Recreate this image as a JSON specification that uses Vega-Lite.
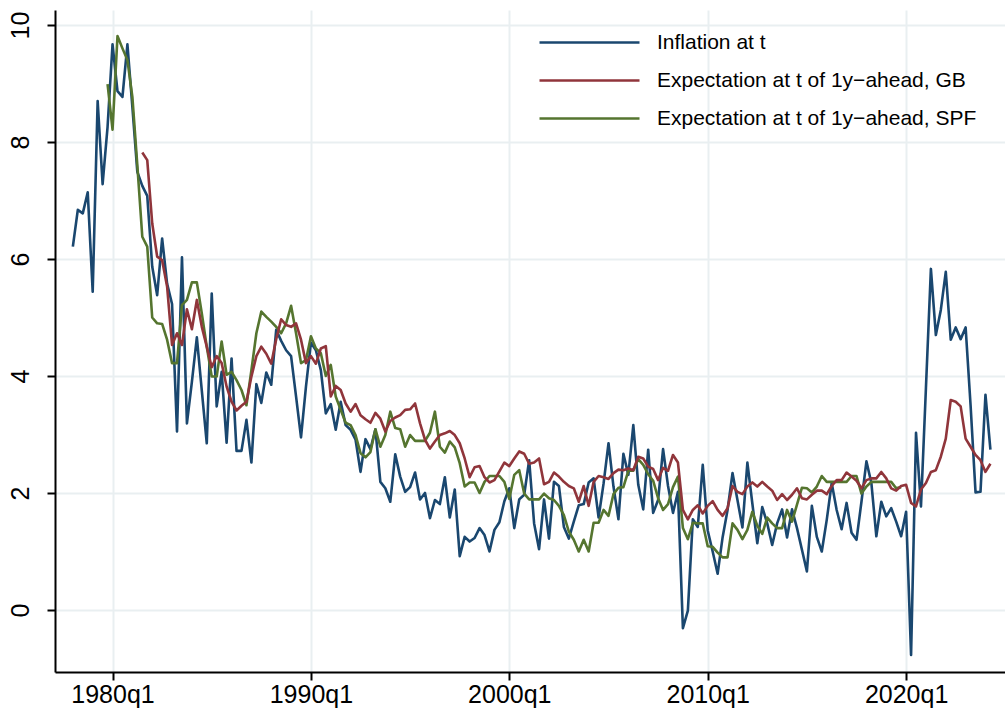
{
  "$schema": "https://vega.github.io/schema/vega-lite/v6.json",
  "width": 950,
  "height": 662,
  "autosize": {"type": "none"},
  "padding": {"left": 55, "top": 10, "right": 0, "bottom": 45},
  "background": "white",
  "config": {
    "view": {"stroke": null},
    "font": "Liberation Sans",
    "axis": {
      "title": null,
      "grid": true,
      "gridColor": "#e9eff1",
      "gridWidth": 2,
      "domainColor": "#000000",
      "domainWidth": 2,
      "tickColor": "#000000",
      "tickWidth": 2,
      "tickSize": 8,
      "labelFont": "Liberation Sans",
      "labelFontSize": 25,
      "labelColor": "#000000",
      "labelOverlap": false,
      "labelFlush": false
    }
  },
  "data": {
    "values": [
      {"q": 1978.00, "inf": 6.21},
      {"q": 1978.25, "inf": 6.84},
      {"q": 1978.50, "inf": 6.78},
      {"q": 1978.75, "inf": 7.14},
      {"q": 1979.00, "inf": 5.44},
      {"q": 1979.25, "inf": 8.70},
      {"q": 1979.50, "inf": 7.28},
      {"q": 1979.75, "inf": 8.26, "spf": 8.99},
      {"q": 1980.00, "inf": 9.67, "spf": 8.21},
      {"q": 1980.25, "inf": 8.87, "spf": 9.81},
      {"q": 1980.50, "inf": 8.77, "spf": 9.60},
      {"q": 1980.75, "inf": 9.67, "spf": 9.40},
      {"q": 1981.00, "inf": 8.60, "spf": 8.77},
      {"q": 1981.25, "inf": 7.49, "spf": 7.60},
      {"q": 1981.50, "inf": 7.25, "gb": 7.82, "spf": 6.38},
      {"q": 1981.75, "inf": 7.08, "gb": 7.69, "spf": 6.21},
      {"q": 1982.00, "inf": 5.87, "gb": 6.61, "spf": 5.00},
      {"q": 1982.25, "inf": 5.38, "gb": 6.04, "spf": 4.90},
      {"q": 1982.50, "inf": 6.35, "gb": 5.98, "spf": 4.89},
      {"q": 1982.75, "inf": 5.58, "gb": 5.53, "spf": 4.62},
      {"q": 1983.00, "inf": 5.23, "gb": 4.53, "spf": 4.22},
      {"q": 1983.25, "inf": 3.05, "gb": 4.73, "spf": 4.22},
      {"q": 1983.50, "inf": 6.03, "gb": 4.53, "spf": 5.21},
      {"q": 1983.75, "inf": 3.19, "gb": 5.14, "spf": 5.30},
      {"q": 1984.00, "inf": 3.90, "gb": 4.80, "spf": 5.60},
      {"q": 1984.25, "inf": 4.66, "gb": 5.30, "spf": 5.60},
      {"q": 1984.50, "inf": 3.75, "gb": 4.84, "spf": 5.07},
      {"q": 1984.75, "inf": 2.85, "gb": 4.50, "spf": 4.50},
      {"q": 1985.00, "inf": 5.41, "gb": 4.15, "spf": 3.99},
      {"q": 1985.25, "inf": 3.48, "gb": 4.34, "spf": 3.99},
      {"q": 1985.50, "inf": 4.07, "gb": 4.22, "spf": 4.59},
      {"q": 1985.75, "inf": 2.86, "gb": 3.82, "spf": 4.02},
      {"q": 1986.00, "inf": 4.30, "gb": 3.56, "spf": 4.07},
      {"q": 1986.25, "inf": 2.72, "gb": 3.41, "spf": 3.93},
      {"q": 1986.50, "inf": 2.72, "gb": 3.49, "spf": 3.76},
      {"q": 1986.75, "inf": 3.25, "gb": 3.56, "spf": 3.50},
      {"q": 1987.00, "inf": 2.52, "gb": 3.99, "spf": 4.10},
      {"q": 1987.25, "inf": 3.86, "gb": 4.34, "spf": 4.73},
      {"q": 1987.50, "inf": 3.54, "gb": 4.50, "spf": 5.10},
      {"q": 1987.75, "inf": 4.06, "gb": 4.38, "spf": 5.01},
      {"q": 1988.00, "inf": 3.85, "gb": 4.21, "spf": 4.93},
      {"q": 1988.25, "inf": 4.79, "gb": 4.63, "spf": 4.84},
      {"q": 1988.50, "inf": 4.60, "gb": 4.97, "spf": 4.73},
      {"q": 1988.75, "inf": 4.44, "gb": 4.87, "spf": 4.90},
      {"q": 1989.00, "inf": 4.34, "gb": 4.84, "spf": 5.20},
      {"q": 1989.25, "inf": 3.65, "gb": 4.90, "spf": 4.73},
      {"q": 1989.50, "inf": 2.95, "gb": 4.62, "spf": 4.22},
      {"q": 1989.75, "inf": 3.82, "gb": 4.22, "spf": 4.27},
      {"q": 1990.00, "inf": 4.57, "gb": 4.34, "spf": 4.68},
      {"q": 1990.25, "inf": 4.44, "gb": 4.21, "spf": 4.47},
      {"q": 1990.50, "inf": 4.10, "gb": 4.47, "spf": 4.39},
      {"q": 1990.75, "inf": 3.36, "gb": 4.51, "spf": 4.00},
      {"q": 1991.00, "inf": 3.52, "gb": 3.65, "spf": 4.19},
      {"q": 1991.25, "inf": 3.08, "gb": 3.83, "spf": 3.65},
      {"q": 1991.50, "inf": 3.56, "gb": 3.76, "spf": 3.42},
      {"q": 1991.75, "inf": 3.16, "gb": 3.53, "spf": 3.20},
      {"q": 1992.00, "inf": 3.08, "gb": 3.39, "spf": 3.16},
      {"q": 1992.25, "inf": 2.91, "gb": 3.52, "spf": 2.99},
      {"q": 1992.50, "inf": 2.36, "gb": 3.33, "spf": 2.68},
      {"q": 1992.75, "inf": 2.92, "gb": 3.26, "spf": 2.61},
      {"q": 1993.00, "inf": 2.75, "gb": 3.20, "spf": 2.70},
      {"q": 1993.25, "inf": 3.09, "gb": 3.37, "spf": 3.09},
      {"q": 1993.50, "inf": 2.19, "gb": 3.27, "spf": 2.79},
      {"q": 1993.75, "inf": 2.08, "gb": 3.05, "spf": 2.99},
      {"q": 1994.00, "inf": 1.85, "gb": 3.23, "spf": 3.39},
      {"q": 1994.25, "inf": 2.66, "gb": 3.29, "spf": 3.11},
      {"q": 1994.50, "inf": 2.28, "gb": 3.33, "spf": 3.09},
      {"q": 1994.75, "inf": 2.02, "gb": 3.42, "spf": 2.79},
      {"q": 1995.00, "inf": 2.10, "gb": 3.43, "spf": 2.99},
      {"q": 1995.25, "inf": 2.35, "gb": 3.53, "spf": 2.89},
      {"q": 1995.50, "inf": 1.89, "gb": 3.19, "spf": 2.89},
      {"q": 1995.75, "inf": 2.00, "gb": 2.91, "spf": 2.89},
      {"q": 1996.00, "inf": 1.57, "gb": 2.76, "spf": 3.03},
      {"q": 1996.25, "inf": 1.88, "gb": 2.88, "spf": 3.39},
      {"q": 1996.50, "inf": 1.81, "gb": 2.99, "spf": 2.79},
      {"q": 1996.75, "inf": 2.27, "gb": 3.02, "spf": 2.69},
      {"q": 1997.00, "inf": 1.58, "gb": 3.06, "spf": 2.88},
      {"q": 1997.25, "inf": 2.06, "gb": 2.99, "spf": 2.78},
      {"q": 1997.50, "inf": 0.92, "gb": 2.85, "spf": 2.51},
      {"q": 1997.75, "inf": 1.25, "gb": 2.59, "spf": 2.11},
      {"q": 1998.00, "inf": 1.17, "gb": 2.27, "spf": 2.18},
      {"q": 1998.25, "inf": 1.23, "gb": 2.44, "spf": 2.18},
      {"q": 1998.50, "inf": 1.40, "gb": 2.46, "spf": 2.00},
      {"q": 1998.75, "inf": 1.28, "gb": 2.27, "spf": 2.19},
      {"q": 1999.00, "inf": 1.00, "gb": 2.18, "spf": 2.29},
      {"q": 1999.25, "inf": 1.37, "gb": 2.22, "spf": 2.29},
      {"q": 1999.50, "inf": 1.50, "gb": 2.37, "spf": 2.29},
      {"q": 1999.75, "inf": 1.86, "gb": 2.52, "spf": 2.19},
      {"q": 2000.00, "inf": 2.08, "gb": 2.46, "spf": 1.90},
      {"q": 2000.25, "inf": 1.40, "gb": 2.59, "spf": 2.31},
      {"q": 2000.50, "inf": 1.89, "gb": 2.71, "spf": 2.39},
      {"q": 2000.75, "inf": 1.97, "gb": 2.67, "spf": 1.99},
      {"q": 2001.00, "inf": 2.56, "gb": 2.50, "spf": 1.89},
      {"q": 2001.25, "inf": 1.48, "gb": 2.52, "spf": 1.89},
      {"q": 2001.50, "inf": 1.04, "gb": 2.59, "spf": 1.89},
      {"q": 2001.75, "inf": 1.89, "gb": 2.15, "spf": 1.99},
      {"q": 2002.00, "inf": 1.22, "gb": 2.19, "spf": 1.91},
      {"q": 2002.25, "inf": 2.19, "gb": 2.35, "spf": 1.88},
      {"q": 2002.50, "inf": 2.12, "gb": 2.28, "spf": 1.78},
      {"q": 2002.75, "inf": 1.42, "gb": 2.19, "spf": 1.62},
      {"q": 2003.00, "inf": 1.22, "gb": 2.12, "spf": 1.34},
      {"q": 2003.25, "inf": 1.51, "gb": 2.08, "spf": 1.20},
      {"q": 2003.50, "inf": 1.79, "gb": 1.85, "spf": 1.00},
      {"q": 2003.75, "inf": 1.81, "gb": 2.12, "spf": 1.20},
      {"q": 2004.00, "inf": 2.18, "gb": 1.78, "spf": 1.00},
      {"q": 2004.25, "inf": 2.25, "gb": 2.19, "spf": 1.49},
      {"q": 2004.50, "inf": 1.58, "gb": 2.29, "spf": 1.49},
      {"q": 2004.75, "inf": 2.16, "gb": 2.27, "spf": 1.71},
      {"q": 2005.00, "inf": 2.85, "gb": 2.24, "spf": 1.61},
      {"q": 2005.25, "inf": 2.11, "gb": 2.34, "spf": 1.98},
      {"q": 2005.50, "inf": 1.55, "gb": 2.40, "spf": 2.09},
      {"q": 2005.75, "inf": 2.67, "gb": 2.39, "spf": 2.10},
      {"q": 2006.00, "inf": 2.31, "gb": 2.42, "spf": 2.38},
      {"q": 2006.25, "inf": 3.16, "gb": 2.39, "spf": 2.38},
      {"q": 2006.50, "inf": 2.14, "gb": 2.62, "spf": 2.58},
      {"q": 2006.75, "inf": 1.72, "gb": 2.59, "spf": 2.48},
      {"q": 2007.00, "inf": 2.74, "gb": 2.45, "spf": 2.32},
      {"q": 2007.25, "inf": 1.66, "gb": 2.41, "spf": 2.21},
      {"q": 2007.50, "inf": 1.88, "gb": 2.22, "spf": 1.91},
      {"q": 2007.75, "inf": 2.75, "gb": 2.43, "spf": 1.71},
      {"q": 2008.00, "inf": 2.12, "gb": 2.38, "spf": 1.81},
      {"q": 2008.25, "inf": 1.66, "gb": 2.65, "spf": 2.10},
      {"q": 2008.50, "inf": 2.02, "gb": 2.52, "spf": 2.28},
      {"q": 2008.75, "inf": -0.31, "gb": 1.71, "spf": 1.40},
      {"q": 2009.00, "inf": -0.01, "gb": 1.55, "spf": 1.21},
      {"q": 2009.25, "inf": 1.55, "gb": 1.71, "spf": 1.49},
      {"q": 2009.50, "inf": 1.42, "gb": 1.79, "spf": 1.48},
      {"q": 2009.75, "inf": 2.48, "gb": 1.65, "spf": 1.48},
      {"q": 2010.00, "inf": 1.36, "gb": 1.78, "spf": 1.09},
      {"q": 2010.25, "inf": 1.00, "gb": 1.86, "spf": 1.08},
      {"q": 2010.50, "inf": 0.62, "gb": 1.71, "spf": 0.98},
      {"q": 2010.75, "inf": 1.24, "gb": 1.61, "spf": 0.90},
      {"q": 2011.00, "inf": 1.71, "gb": 1.74, "spf": 0.90},
      {"q": 2011.25, "inf": 2.34, "gb": 2.12, "spf": 1.48},
      {"q": 2011.50, "inf": 1.88, "gb": 2.02, "spf": 1.37},
      {"q": 2011.75, "inf": 1.41, "gb": 1.98, "spf": 1.21},
      {"q": 2012.00, "inf": 2.52, "gb": 2.11, "spf": 1.37},
      {"q": 2012.25, "inf": 1.82, "gb": 2.18, "spf": 1.68},
      {"q": 2012.50, "inf": 1.14, "gb": 2.11, "spf": 1.44},
      {"q": 2012.75, "inf": 1.76, "gb": 2.19, "spf": 1.30},
      {"q": 2013.00, "inf": 1.48, "gb": 2.11, "spf": 1.58},
      {"q": 2013.25, "inf": 1.11, "gb": 2.04, "spf": 1.48},
      {"q": 2013.50, "inf": 1.48, "gb": 1.88, "spf": 1.40},
      {"q": 2013.75, "inf": 1.72, "gb": 1.98, "spf": 1.40},
      {"q": 2014.00, "inf": 1.24, "gb": 1.88, "spf": 1.71},
      {"q": 2014.25, "inf": 1.72, "gb": 1.97, "spf": 1.51},
      {"q": 2014.50, "inf": 1.40, "gb": 2.08, "spf": 1.80},
      {"q": 2014.75, "inf": 1.03, "gb": 1.91, "spf": 2.09},
      {"q": 2015.00, "inf": 0.66, "gb": 1.89, "spf": 2.08},
      {"q": 2015.25, "inf": 1.78, "gb": 1.97, "spf": 2.01},
      {"q": 2015.50, "inf": 1.25, "gb": 2.04, "spf": 2.11},
      {"q": 2015.75, "inf": 1.00, "gb": 2.04, "spf": 2.29},
      {"q": 2016.00, "inf": 1.54, "gb": 1.98, "spf": 2.19},
      {"q": 2016.25, "inf": 2.17, "gb": 2.12, "spf": 2.19},
      {"q": 2016.50, "inf": 1.71, "gb": 2.22, "spf": 2.19},
      {"q": 2016.75, "inf": 1.38, "gb": 2.22, "spf": 2.19},
      {"q": 2017.00, "inf": 1.83, "gb": 2.35, "spf": 2.19},
      {"q": 2017.25, "inf": 1.32, "gb": 2.28, "spf": 2.29},
      {"q": 2017.50, "inf": 1.20, "gb": 2.21, "spf": 2.29},
      {"q": 2017.75, "inf": 1.85, "gb": 2.08, "spf": 1.99},
      {"q": 2018.00, "inf": 2.54, "gb": 2.22, "spf": 2.11},
      {"q": 2018.25, "inf": 2.17, "gb": 2.25, "spf": 2.19},
      {"q": 2018.50, "inf": 1.26, "gb": 2.25, "spf": 2.19},
      {"q": 2018.75, "inf": 1.85, "gb": 2.36, "spf": 2.19},
      {"q": 2019.00, "inf": 1.60, "gb": 2.25, "spf": 2.19},
      {"q": 2019.25, "inf": 1.74, "gb": 2.08, "spf": 2.19},
      {"q": 2019.50, "inf": 1.51, "gb": 2.04, "spf": 2.08},
      {"q": 2019.75, "inf": 1.26, "gb": 2.12, "spf": 2.10},
      {"q": 2020.00, "inf": 1.68, "gb": 2.14},
      {"q": 2020.25, "inf": -0.77, "gb": 1.83},
      {"q": 2020.50, "inf": 3.03, "gb": 1.77},
      {"q": 2020.75, "inf": 1.77, "gb": 2.06},
      {"q": 2021.00, "inf": 3.80, "gb": 2.17},
      {"q": 2021.25, "inf": 5.83, "gb": 2.36},
      {"q": 2021.50, "inf": 4.70, "gb": 2.39},
      {"q": 2021.75, "inf": 5.13, "gb": 2.62},
      {"q": 2022.00, "inf": 5.78, "gb": 2.93},
      {"q": 2022.25, "inf": 4.62, "gb": 3.59},
      {"q": 2022.50, "inf": 4.83, "gb": 3.56},
      {"q": 2022.75, "inf": 4.63, "gb": 3.48},
      {"q": 2023.00, "inf": 4.83, "gb": 2.93},
      {"q": 2023.25, "inf": 3.50, "gb": 2.79},
      {"q": 2023.50, "inf": 2.01, "gb": 2.65},
      {"q": 2023.75, "inf": 2.02, "gb": 2.56},
      {"q": 2024.00, "inf": 3.68, "gb": 2.36},
      {"q": 2024.25, "inf": 2.74, "gb": 2.50}
    ]
  },
  "transform": [
    {"fold": ["inf", "gb", "spf"], "as": ["series", "value"]},
    {"filter": "isValid(datum.value)"}
  ],
  "mark": {"type": "line", "strokeWidth": 2.6, "strokeJoin": "round"},
  "encoding": {
    "x": {
      "field": "q",
      "type": "quantitative",
      "scale": {"domain": [1977.1, 2024.985], "nice": false, "zero": false},
      "axis": {
        "values": [1980, 1990, 2000, 2010, 2020],
        "labelExpr": "datum.value + 'q1'",
        "labelPadding": 2
      }
    },
    "y": {
      "field": "value",
      "type": "quantitative",
      "scale": {"domain": [-1.06, 10.256], "nice": false, "zero": false},
      "axis": {
        "values": [0, 2, 4, 6, 8, 10],
        "labelAngle": -90,
        "labelAlign": "center",
        "labelBaseline": "bottom",
        "labelPadding": 14
      }
    },
    "color": {
      "field": "series",
      "type": "nominal",
      "scale": {"domain": ["inf", "gb", "spf"], "range": ["#1a476f", "#90353b", "#55752f"]},
      "legend": {
        "orient": "none",
        "legendX": 480,
        "legendY": 22,
        "title": null,
        "padding": 0,
        "symbolType": "M-10,0H10",
        "symbolSize": 100,
        "symbolStrokeWidth": 2.6,
        "symbolOffset": 44,
        "labelOffset": 57,
        "labelFont": "Liberation Sans",
        "labelFontSize": 21,
        "labelColor": "#000000",
        "rowPadding": 16,
        "labelLimit": 500,
        "labelExpr": "datum.label == 'inf' ? 'Inflation at t' : datum.label == 'gb' ? 'Expectation at t of 1y−ahead, GB' : 'Expectation at t of 1y−ahead, SPF'"
      }
    }
  }
}
